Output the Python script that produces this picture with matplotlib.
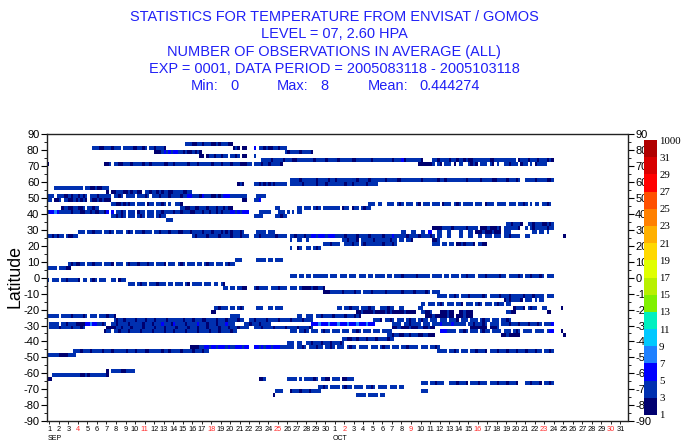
import numpy as np
import matplotlib
matplotlib.use("Agg")
import matplotlib.pyplot as plt
from matplotlib.colors import ListedColormap, BoundaryNorm
from matplotlib.colorbar import ColorbarBase

plt.rcParams['font.family'] = ['Liberation Sans', 'DejaVu Sans']

# Observation tracks: latitude-bin centre, first 6-hourly slot (slot 0 = 2005-08-31 18Z),
# and the number of observations in each following slot ('.' = none).
track_lat = [
    83.75, 81.25, 81.25, 78.75, 78.75, 76.25, 73.75, 73.75, 71.25, 71.25,
    71.25, 71.25, 61.25, 61.25, 58.75, 56.25, 53.75, 51.25, 51.25, 48.75,
    48.75, 46.25, 46.25, 43.75, 43.75, 43.75, 43.75, 41.25, 38.75, 38.75,
    36.25, 33.75, 31.25, 28.75, 28.75, 28.75, 26.25, 26.25, 26.25, 23.75,
    23.75, 23.75, 21.25, 21.25, 18.75, 11.25, 8.75, 6.25, 1.25, -1.25,
    -3.75, -6.25, -8.75, -11.25, -13.75, -16.25, -18.75, -18.75, -18.75, -18.75,
    -18.75, -21.25, -21.25, -21.25, -21.25, -23.75, -23.75, -23.75, -23.75, -26.25,
    -26.25, -28.75, -28.75, -28.75, -31.25, -31.25, -31.25, -31.25, -33.75, -33.75,
    -33.75, -33.75, -36.25, -36.25, -36.25, -38.75, -41.25, -43.75, -46.25, -46.25,
    -48.75, -58.75, -61.25, -63.75, -63.75, -63.75, -66.25, -68.75, -71.25, -71.25,
    -73.75, -73.75,
]
track_start = [
    58, 19, 78, 45, 100, 64, 90, 162, 0, 24,
    87, 156, 102, 201, 80, 3, 25, 0, 88, 0,
    82, 27, 135, 6, 56, 96, 105, 0, 27, 87,
    50, 193, 162, 13, 149, 204, 0, 61, 217, 102,
    124, 162, 116, 162, 102, 79, 9, 0, 102, 0,
    34, 74, 116, 164, 192, 157, 70, 122, 156, 196,
    216, 69, 130, 193, 210, 0, 77, 105, 159, 28,
    137, 1, 111, 145, 1, 25, 145, 178, 24, 102,
    165, 216, 143, 191, 217, 124, 101, 60, 11, 164,
    0, 25, 2, 0, 89, 101, 157, 114, 96, 157,
    95, 130,
]
track_counts = [
    "33311331333113133311",
    "333113331333.3333113313.3313331",
    "131.11...5.331311331333",
    "11135353553313113131",
    "313333133331",
    "11.133133133.3313.11...3",
    "33331333313331133333331333313333133333113333331333333331333513333331",
    "33133331331331311333333311333333333.133313331333131",
    "1",
    "113.3311333133331331333331133133333133313333313331333133311133",
    "333133133331",
    "1111113.31.333.1.33..3131.333.31.3..331333.133.3.13333",
    "3333133333313333133133333333133331333333133331133333333133333313313333"
    "333313333313333113333133313",
    "333313333113",
    "131....33131313133333.3333313333313331333333313313333313333",
    "333333333333.3311311333",
    "1.1133311313311.33133131331133331133",
    "333.3331131331313.333133333.3313.3333.33313.3331333133331335533315333113135553333333",
    "3333",
    "33.113.3311313131.311313111",
    "11...335",
    "3311313133.333.133.3313.3..331",
    "333.33..333.313.333.31.333.333.1333.313.3333.333.1333.3333.333.3313.3.33.3313.",
    "1331133113.33133",
    "3311331133313331331311",
    "33",
    "33.333.313.3333333.133.133.3133",
    "35575333331333113313113315.5.3313.333.133.333.3313333133133311333133133131333"
    "55353555....33333...333.3.3.33",
    "331313.333.313.333.3133",
    "3333.....33133",
    "333",
    "3313331..33133311313",
    "1111333313333313333.111311131.3333331..3.3133333133",
    "333.331333.3313.333.313.3331333.33133313331133313333133313331313133313.....3333.333",
    "33..33..33.55..33..33...33..33.11131113111.333",
    "33.33.3",
    "3313133.31133",
    "313333133331333313331333..33133333313333.33133313355355535553"
    "33313333133331333331333533333133331333313.33..33...33..33..33.333.333.3313333..33",
    "1",
    "3..33..3",
    "3313331.333331333333133.33.331",
    "113",
    "3331333..333133.313333333133313",
    "333.33.33.11313331.3311",
    "3..13..33.313",
    "333......3333.33.333",
    "3131133.331333.3331.333.313331333133.3331.333.313.333.33.3133.333.3133",
    "3333.33311",
    "333.33.33.333333.333.333.333.333.33.3333.33.333133333133333.3333.33.333.331333."
    "333133333133.333313.33133313.333",
    "3.333.33133331.33.313.333..33.133",
    "333.3133.3331333.33.333.31.3333.333.33.31",
    "33.33.3311...313333.3331333.333.31111311331",
    "1113333313333133.3331333331333333133331333313.333",
    "3333.3313.33313333313.33331333133333133313333.333",
    "13133331.333.3.33",
    "33.333.313.333.331.333.313.333.3133.33",
    "331333.33.313.....333..33.333",
    "33.331333.333133..333133..33",
    "33",
    "13331.3133..33",
    "1",
    "11",
    "1131111311113131111131111..33113...111311..113111",
    "3311",
    "11",
    "33333.33331333313.333.3331331",
    "3333",
    "33..333.3313333133331333131",
    "111311111311.1113111",
    "3133133331333133313333133333313331333113333133313333133..331333313333133331333313333",
    "3331.3313.333.3133.3133.333.333.3331.333.333.3133.333.3313",
    "3333.3313331111557553313..33133331333331333133353331533331333353331333133353"
    "33....33133313333",
    "555755575557555755575557555",
    "3333.3313333.333.33353333533333.33133313.3333.33313331333133313.3335",
    "333313333133313",
    "111133133313333133331333133331333313331333133331333133313333..3331333313333133331333313",
    "113311131113311311",
    "1111111.1113",
    "133.3313331333313333133331333133331333313333133313333133",
    "333.3313.333.3133.333.333.3313.333.333.3333",
    "5553333.3313.333.3133.3333.333.313.3333.3333.355",
    "1",
    "33133113313331133111",
    "11311111",
    "1",
    "3311331333133313333133",
    "333.33..3313331333133313",
    "1111335535535553533555355..55353553555333333.3313.333133.3313.333.3133.3333.333."
    "3133.333.3313333.333.3313",
    "333133313333133313333313331333113333313313333133331333133",
    "3333.3313.333.3313331.3331333133313331333133.3313",
    "333331111333",
    "1.3333113333",
    "333333333333113133333331",
    "11",
    "113",
    "3333.3.333313.3311.333.11333",
    "333.331333..33313331.3331333.333133313331...3313331.3313",
    "3313.3333.3133.3333.3313.3333.333.33",
    "333...1333133313333",
    "333",
    "1",
    "3333.3333.33",
]

# Day-of-month tick labels for September and October 2005; Sundays drawn in red
sep_days = [str(d) for d in range(1, 31)]
oct_days = [str(d) for d in range(1, 32)]
sunday_ticks = [3, 10, 17, 24, 31, 38, 45, 52, 59]

# Colour scale (number of observations)
cbar_levels = [1, 3, 5, 7, 9, 11, 13, 15, 17, 19, 21, 23, 25, 27, 29, 31, 1000]
cbar_colors = ["#000070", "#0030b0", "#0000ff", "#1e80ff", "#00c8ff", "#00f0c0",
               "#80f000", "#b8f000", "#e0ff00", "#ffd800", "#ffb000", "#ff8000",
               "#ff5000", "#ff0000", "#d80000", "#b00000"]

title_lines = [
    "STATISTICS FOR TEMPERATURE FROM ENVISAT / GOMOS",
    "LEVEL = 07, 2.60 HPA",
    "NUMBER OF OBSERVATIONS IN AVERAGE (ALL)",
    "EXP = 0001, DATA PERIOD = 2005083118 - 2005103118",
]
stat_items = ["Min:", "0", "Max:", "8", "Mean:", "0.444274"]

W, H = 682, 441
fig = plt.figure(figsize=(W / 100, H / 100), dpi=100)
fig.patch.set_facecolor("white")

def px(x, y):
    return x / W, 1 - y / H

# ---- gridded counts
n_lat, n_slot = 72, 244
grid = np.zeros((n_lat, n_slot))
for lat, start, counts in zip(track_lat, track_start, track_counts):
    row = int((lat + 90) // 2.5)
    for k, ch in enumerate(counts):
        if ch != "." and start + k < n_slot:
            grid[row, start + k] = int(ch)
lat_edges = np.linspace(-90, 90, n_lat + 1)
time_edges = -0.25 + 0.25 * np.arange(n_slot + 1)

cmap = ListedColormap(cbar_colors)
norm = BoundaryNorm(cbar_levels, cmap.N)

ax = fig.add_axes([47 / W, 1 - 421 / H, 580.5 / W, 286.5 / H])
ax.pcolormesh(time_edges, lat_edges, np.ma.masked_equal(grid, 0),
              cmap=cmap, norm=norm, shading="flat")
ax.set_xlim(-0.25, 60.75)
ax.set_ylim(-90, 90)
for sp in ax.spines.values():
    sp.set_linewidth(1.0)
    sp.set_color("#222222")

ax.set_yticks(np.arange(-90, 91, 10))
ax.set_yticks(np.arange(-85, 90, 10), minor=True)
ax.set_yticklabels([str(v) for v in range(-90, 91, 10)])
ax.tick_params(axis="y", which="major", length=4, width=0.8, labelsize=8,
               pad=1.5, right=True, labelright=True, direction="out")
ax.tick_params(axis="y", which="minor", length=2, width=0.6, right=True,
               direction="out")

day_labels = sep_days + oct_days
ax.set_xticks(np.arange(0, len(day_labels)))
ax.set_xticklabels(day_labels)
ax.tick_params(axis="x", which="major", length=2.5, width=0.6, labelsize=5.3,
               pad=1.2, direction="out")
for i, lab in enumerate(ax.get_xticklabels()):
    if i in sunday_ticks:
        lab.set_color("#ff2a2a")

fig.text(*px(15, 277), "Latitude", fontsize=12.8, rotation=90,
         ha="center", va="center")

fig.text(*px(48, 438.5), "SEP", fontsize=5, ha="left", va="center")
fig.text(*px(333, 438.5), "OCT", fontsize=5, ha="left", va="center")

# ---- titles
title_blue = "#2020f6"
for i, line in enumerate(title_lines):
    fig.text(*px(334, 16.7 + 17.5 * i), line, fontsize=10.45, color=title_blue,
             ha="center", va="center")
stat_x = [191, 230, 277, 320, 368, 419]
for x, s in zip(stat_x, stat_items):
    fig.text(*px(x, 86.5), s, fontsize=10.45, color=title_blue, ha="left", va="center")

# ---- colour bar
cax = fig.add_axes([644 / W, 1 - 415 / H, 13 / W, 275 / H])
cb = ColorbarBase(cax, cmap=cmap, norm=norm, boundaries=cbar_levels,
                  ticks=cbar_levels, spacing="uniform")
cb.outline.set_visible(False)
cb.set_ticklabels([str(v) for v in cbar_levels])
cax.tick_params(length=0, pad=1.5, labelsize=7.8)
for t in cax.get_yticklabels():
    t.set_fontfamily("Liberation Serif")

fig.savefig("out.png", dpi=100, facecolor="white")
